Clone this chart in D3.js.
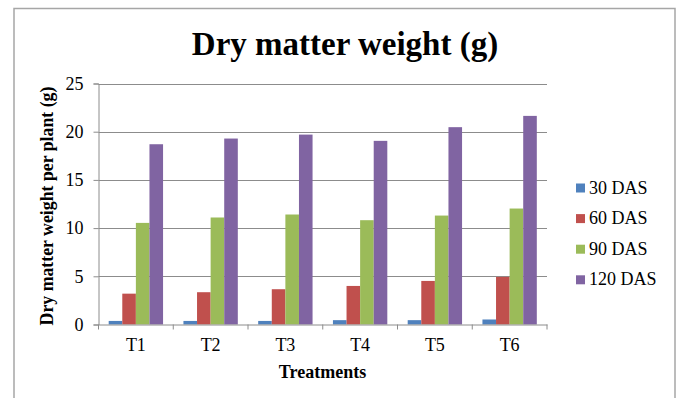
<!DOCTYPE html>
<html><head><meta charset="utf-8">
<script src="https://cdn.jsdelivr.net/npm/d3@7"></script>
<style>body{margin:0;background:#fff}svg{display:block}text{font-family:"Liberation Serif","Times New Roman",serif}</style>
</head><body>
<svg id="c" width="679" height="398"></svg>
<script>
const categories = ["T1","T2","T3","T4","T5","T6"];
const seriesNames = ["30 DAS","60 DAS","90 DAS","120 DAS"];
const das30  = [0.37,0.37,0.37,0.45,0.45,0.52];
const das60  = [3.2,3.35,3.66,4.0,4.52,4.94];
const das90  = [10.54,11.1,11.41,10.82,11.3,12.03];
const das120 = [18.7,19.29,19.7,19.05,20.47,21.64];
const yTicks = [0,5,10,15,20,25];
const colors = ["#4f81bd","#c0504d","#9bbb59","#8064a2"];
const seriesValues = [das30,das60,das90,das120];
const FONT = "Liberation Serif";

const svg = d3.select("#c");
// outer frame
svg.append("rect").attr("x",14).attr("y",8.5).attr("width",661).attr("height",400)
  .attr("fill","none").attr("stroke","#a6a6a6").attr("stroke-width",1.5);

const L=98.5, R=547, T=83.5, B=324.5;
const x = d3.scaleBand().domain(categories).range([L,R]).paddingInner(0).paddingOuter(0);
const y = d3.scaleLinear().domain([0,25]).range([B,T]);

// gridlines
svg.append("g").selectAll("line").data(yTicks.filter(d=>d>0)).join("line")
  .attr("x1",L).attr("x2",R).attr("y1",d=>Math.round(y(d))+0.5).attr("y2",d=>Math.round(y(d))+0.5)
  .attr("stroke","#8c8c8c").attr("stroke-width",1);

// bars (Excel-like gap width 150%)
const bw = x.bandwidth()/5.5;
const g = svg.append("g");
seriesValues.forEach((vals,si)=>{
  g.selectAll(null).data(vals).join("rect")
    .attr("x",(d,i)=>x(categories[i]) + 0.75*bw + si*bw)
    .attr("width",bw)
    .attr("y",d=>y(d))
    .attr("height",d=>y(0)-y(d))
    .attr("fill",colors[si]);
});

// y axis
const yAxis = d3.axisLeft(y).tickValues(yTicks).tickSize(5).tickPadding(10).tickFormat(d3.format("d"));
const ya = svg.append("g").attr("transform",`translate(${L},0)`).call(yAxis);
ya.attr("font-family",FONT);
ya.select(".domain").attr("stroke","#8c8c8c");
ya.selectAll(".tick line").attr("stroke","#8c8c8c");
ya.selectAll(".tick text").attr("font-size",18).attr("fill","#000");

// x axis
const xAxis = d3.axisBottom(x).tickSize(0).tickPadding(14);
const xa = svg.append("g").attr("transform",`translate(0,${B})`).call(xAxis);
xa.attr("font-family",FONT);
xa.select(".domain").attr("stroke","#8c8c8c");
xa.selectAll(".tick text").attr("font-size",18).attr("fill","#000");
// category boundary ticks
const bounds = categories.map(c=>x(c)).concat([R]);
svg.append("g").selectAll("line").data(bounds).join("line")
  .attr("x1",d=>d).attr("x2",d=>d).attr("y1",B).attr("y2",B+5).attr("stroke","#8c8c8c");

// title
svg.append("text").attr("x",345).attr("y",55).attr("text-anchor","middle")
  .attr("font-size",33).attr("font-weight","bold").text("Dry matter weight (g)");
// axis titles
svg.append("text").attr("transform","translate(53,206) rotate(-90)").attr("text-anchor","middle")
  .attr("font-size",17.8).attr("font-weight","bold").text("Dry matter weight per plant (g)");
svg.append("text").attr("x",322.5).attr("y",378).attr("text-anchor","middle")
  .attr("font-size",18).attr("font-weight","bold").text("Treatments");

// legend
const lg = svg.append("g").selectAll("g").data(seriesNames).join("g")
  .attr("transform",(d,i)=>`translate(576,${188+i*30.6})`);
lg.append("rect").attr("x",0).attr("y",-4.5).attr("width",9).attr("height",9).attr("fill",(d,i)=>colors[i]);
lg.append("text").attr("x",13).attr("y",5.5).attr("font-size",18).text(d=>d);
</script>
</body></html>
